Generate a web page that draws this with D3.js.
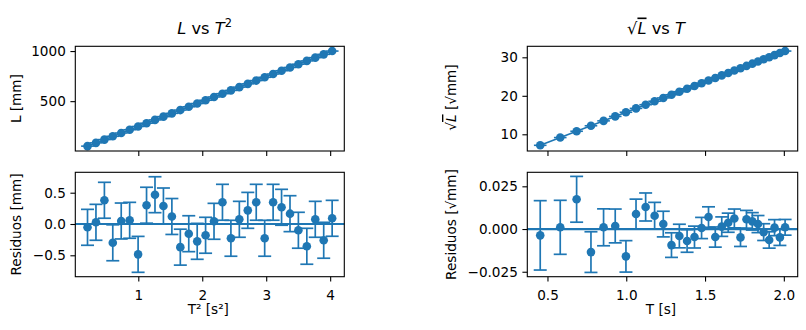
<!DOCTYPE html>
<html><head><meta charset="utf-8">
<script src="https://cdn.jsdelivr.net/npm/d3@7"></script>
<style>
body{margin:0;background:#fff;}
svg text{font-family:"DejaVu Sans",sans-serif;fill:#000;}
</style></head><body>
<svg id="c" width="806" height="330"></svg>
<script>
// ---- data ----
const T2 = [0.206,0.338,0.470,0.601,0.733,0.865,0.997,1.129,1.261,1.393,1.525,1.657,1.789,1.921,2.052,2.184,2.316,2.448,2.580,2.712,2.844,2.976,3.108,3.240,3.372,3.503,3.635,3.767,3.899,4.031];
const L = [51.0,83.7,116.4,149.2,181.9,214.6,247.3,280.0,312.8,345.5,378.2,410.9,443.6,476.4,509.1,541.8,574.5,607.2,640.0,672.7,705.4,738.1,770.8,803.6,836.3,869.0,901.7,934.4,967.2,999.9];
const resL = [-0.053,0.027,0.379,-0.30,0.048,0.059,-0.485,0.30,0.468,0.288,0.12,-0.37,-0.155,-0.277,-0.18,0.043,0.347,-0.228,0.075,0.218,0.347,-0.228,0.347,0.267,0.165,-0.10,-0.356,0.075,-0.26,0.091];
const errL = [0.287,0.287,0.287,0.287,0.287,0.287,0.287,0.287,0.287,0.287,0.287,0.287,0.287,0.287,0.287,0.287,0.287,0.287,0.287,0.287,0.287,0.287,0.287,0.287,0.287,0.287,0.287,0.287,0.287,0.287];
const T = [0.454,0.581,0.685,0.776,0.856,0.930,0.998,1.062,1.123,1.180,1.235,1.287,1.337,1.386,1.433,1.478,1.522,1.565,1.606,1.647,1.686,1.725,1.763,1.800,1.836,1.872,1.907,1.941,1.975,2.008];
const sqrtL = [7.141,9.149,10.789,12.215,13.487,14.649,15.726,16.733,17.686,18.588,19.447,20.271,21.062,21.827,22.563,23.277,23.969,24.641,25.298,25.937,26.559,27.168,27.763,28.348,28.919,29.479,30.028,30.568,31.100,31.622];
const resSqrtL = [-0.0037,0.001,0.0174,-0.0135,0.001,0.0018,-0.016,0.0088,0.0129,0.0078,0.0029,-0.0094,-0.0041,-0.007,-0.0047,0.0006,0.0070,-0.0047,0.0014,0.0037,0.0062,-0.0049,0.0057,0.0045,0.0029,-0.0018,-0.0064,0.0008,-0.0049,0.001];
const errSqrtL = [0.0203,0.0158,0.0134,0.0119,0.0108,0.0099,0.0092,0.0087,0.0082,0.0078,0.0075,0.0072,0.0069,0.0066,0.0064,0.0062,0.0060,0.0059,0.0057,0.0056,0.0055,0.0053,0.0052,0.0051,0.0050,0.0049,0.0048,0.0047,0.0047,0.0046];
const xErrT2 = 0.1;
const xErrT = 0.04;
const xTicksLeft = [1,2,3,4];
const yTicksL = [500,1000];
const yTicksResL = [-0.5,0,0.5];
const xTicksRight = [0.5,1.0,1.5,2.0];
const yTicksSqrt = [10,20,30];
const yTicksResSqrt = [-0.025,0,0.025];

// ---- drawing ----
const C0 = "#1f77b4";
const svg = d3.select("#c");
const FS = 13.6;

const LX0 = 75.3, LX1 = 344.3, RX0 = 527.3, RX1 = 797.7;
const TY0 = 46.3, TY1 = 151, BY0 = 172.3, BY1 = 276.7;

const xLeft = d3.scaleLinear().domain([0.015, 4.221]).range([LX0, LX1]);
const xRight = d3.scaleLinear().domain([0.372, 2.088]).range([RX0, RX1]);
const yL = d3.scaleLinear().domain([2.5, 1047.5]).range([TY1, TY0]);
const yResL = d3.scaleLinear().domain([-0.842, 0.826]).range([BY1, BY0]);
const ySqrt = d3.scaleLinear().domain([5.66, 32.86]).range([TY1, TY0]);
const yResSqrt = d3.scaleLinear().domain([-0.0279, 0.0332]).range([BY1, BY0]);

function linfit(xs, ys) {
  const mx = d3.mean(xs), my = d3.mean(ys);
  let sxy = 0, sxx = 0;
  xs.forEach((x, i) => { sxy += (x - mx) * (ys[i] - my); sxx += (x - mx) * (x - mx); });
  const b = sxy / sxx;
  return { slope: b, intercept: my - b * mx };
}

function styleAxis(g) {
  g.select(".domain").remove();
  g.selectAll(".tick line").attr("stroke", "#000").attr("stroke-width", 1.1);
  g.selectAll("text").attr("font-size", FS).attr("font-family", "DejaVu Sans").attr("fill", "#000");
  g.attr("font-size", null).attr("font-family", null);
}

function frame(x0, y0, x1, y1, xs, ys, xt, yt, xf, yf, showX) {
  const ga = svg.append("g");
  ga.append("g").attr("transform", `translate(0,${y1})`)
    .call(d3.axisBottom(xs).tickValues(xt).tickSize(4.9).tickPadding(8.3).tickFormat(showX ? xf : () => ""))
    .call(styleAxis);
  ga.append("g").attr("transform", `translate(${x0},0)`)
    .call(d3.axisLeft(ys).tickValues(yt).tickSize(4.9).tickPadding(4.6).tickFormat(yf))
    .call(styleAxis);
  ga.append("rect").attr("x", x0).attr("y", y0).attr("width", x1 - x0).attr("height", y1 - y0)
    .attr("fill", "none").attr("stroke", "#000").attr("stroke-width", 1.1);
}

function topPanel(xs, ys, xv, yv, xerr) {
  const g = svg.append("g");
  const f = linfit(xv, yv);
  const xa = d3.min(xv), xb = d3.max(xv);
  g.append("line").attr("x1", xs(xa)).attr("x2", xs(xb))
    .attr("y1", ys(f.slope * xa + f.intercept)).attr("y2", ys(f.slope * xb + f.intercept))
    .attr("stroke", C0).attr("stroke-width", 1.6);
  g.selectAll(".xe").data(xv).join("line")
    .attr("x1", (d) => xs(d - xerr)).attr("x2", (d) => xs(d + xerr))
    .attr("y1", (d, i) => ys(yv[i])).attr("y2", (d, i) => ys(yv[i]))
    .attr("stroke", C0).attr("stroke-width", 1.6);
  g.selectAll("circle").data(xv).join("circle")
    .attr("cx", (d) => xs(d)).attr("cy", (d, i) => ys(yv[i])).attr("r", 4.3).attr("fill", C0);
}

function resPanel(xs, ys, xv, rv, ev, x0, x1) {
  const g = svg.append("g");
  const cap = 6.5;
  xv.forEach((x, i) => {
    const px = xs(x), ya = ys(rv[i] - ev[i]), yb = ys(rv[i] + ev[i]);
    g.append("line").attr("x1", px).attr("x2", px).attr("y1", ya).attr("y2", yb).attr("stroke", C0).attr("stroke-width", 1.7);
    g.append("line").attr("x1", px - cap).attr("x2", px + cap).attr("y1", ya).attr("y2", ya).attr("stroke", C0).attr("stroke-width", 1.7);
    g.append("line").attr("x1", px - cap).attr("x2", px + cap).attr("y1", yb).attr("y2", yb).attr("stroke", C0).attr("stroke-width", 1.7);
  });
  g.append("line").attr("x1", x0).attr("x2", x1).attr("y1", ys(0)).attr("y2", ys(0)).attr("stroke", C0).attr("stroke-width", 2.2);
  g.selectAll("circle").data(xv).join("circle")
    .attr("cx", (d) => xs(d)).attr("cy", (d, i) => ys(rv[i])).attr("r", 4.3).attr("fill", C0);
}

topPanel(xLeft, yL, T2, L, xErrT2);
resPanel(xLeft, yResL, T2, resL, errL, LX0, LX1);
topPanel(xRight, ySqrt, T, sqrtL, xErrT);
resPanel(xRight, yResSqrt, T, resSqrtL, errSqrtL, RX0, RX1);

frame(LX0, TY0, LX1, TY1, xLeft, yL, xTicksLeft, yTicksL, d3.format("d"), d3.format("d"), false);
frame(LX0, BY0, LX1, BY1, xLeft, yResL, xTicksLeft, yTicksResL, d3.format("d"), d3.format(".1f"), true);
frame(RX0, TY0, RX1, TY1, xRight, ySqrt, xTicksRight, yTicksSqrt, d3.format(".1f"), d3.format("d"), false);
frame(RX0, BY0, RX1, BY1, xRight, yResSqrt, xTicksRight, yTicksResSqrt, d3.format(".1f"), d3.format(".3f"), true);

// titles
const t1 = svg.append("text").attr("x", 204.5).attr("y", 33.5).attr("text-anchor", "middle").attr("font-size", 16.3);
t1.append("tspan").attr("font-style", "italic").text("L");
t1.append("tspan").text(" vs ");
t1.append("tspan").attr("font-style", "italic").text("T");
t1.append("tspan").attr("font-size", 11.4).attr("dy", -6.5).text("2");

const t2 = svg.append("text").attr("x", 656).attr("y", 33.5).attr("text-anchor", "middle").attr("font-size", 16.3);
t2.append("tspan").text("√");
t2.append("tspan").attr("font-style", "italic").attr("text-decoration", "overline").text("L");
t2.append("tspan").text(" vs ");
t2.append("tspan").attr("font-style", "italic").text("T");

// axis labels
function ylab(x, cy) {
  return svg.append("text").attr("transform", `translate(${x},${cy}) rotate(-90)`).attr("text-anchor", "middle").attr("font-size", FS);
}
ylab(20.5, 98.6).text("L [mm]");
ylab(20.5, 224.5).text("Residuos [mm]");
const yl3 = ylab(456, 97.5);
yl3.append("tspan").text("√");
yl3.append("tspan").attr("font-style", "italic").attr("text-decoration", "overline").text("L");
yl3.append("tspan").text(" [√mm]");
ylab(456, 224.5).text("Residuos [√mm]");

svg.append("text").attr("x", 208.3).attr("y", 314).attr("text-anchor", "middle").attr("font-size", FS).text("T² [s²]");
svg.append("text").attr("x", 661).attr("y", 314).attr("text-anchor", "middle").attr("font-size", FS).text("T [s]");
</script>
</body></html>
